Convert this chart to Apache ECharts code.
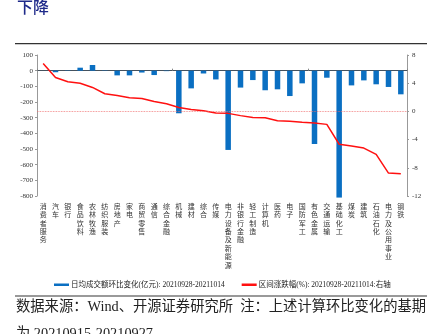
<!DOCTYPE html>
<html><head><meta charset="utf-8">
<script src="https://cdn.jsdelivr.net/npm/echarts@6/dist/echarts.min.js"></script>
<style>html,body{margin:0;padding:0;background:#fff}#c{width:433px;height:334px}</style>
</head><body><div id="c"></div>
<script>
const categories = ['消费者服务','汽车','银行','食品饮料','农林牧渔','纺织服装','房地产','家电','商贸零售','通信','综合金融','机械','建材','综合','传媒','电力设备及新能源','非银行金融','轻工制造','计算机','医药','电子','国防军工','有色金属','交通运输','基础化工','煤炭','建筑','石油石化','电力及公用事业','钢铁'];
const turnoverChange = [0,-10,-2,19,36,-2,-30,-30,-12,-28,-3,-272,-113,-18,-56,-506,-108,-60,-125,-119,-162,-81,-468,-45,-810,-94,-62,-87,-104,-151];
const priceChange = [6.8,4.8,4.2,4.0,3.4,2.5,2.26,1.93,1.84,1.4,1.08,0.56,0.28,0.1,-0.24,-0.28,-0.6,-0.85,-0.9,-1.32,-1.41,-1.55,-1.65,-1.84,-4.66,-4.9,-5.2,-6.1,-8.75,-8.85];
const barName = '日均成交额环比变化(亿元): 20210928-20211014';
const lineName = '区间涨跌幅(%): 20210928-20211014:右轴';
const titleText = '下降';
const footLine1 = '数据来源：Wind、开源证券研究所  注：上述计算环比变化的基期';
const footLine2 = '为 20210915-20210927';

const serif = '"Liberation Serif","Noto Sans CJK SC"';
const chart = echarts.init(document.getElementById('c'), null, {renderer:'canvas'});
const numLabel = {fontSize:7, fontFamily:serif, color:'#333'};
chart.setOption({
  animation:false,
  backgroundColor:'#fff',
  grid:{left:37, right:26, top:55, bottom:138},
  legend:{
    left:49, top:276, itemWidth:15, itemHeight:2.5, itemGap:17,
    textStyle:{fontSize:7.5, fontFamily:serif, color:'#222', padding:[0,0,0,-3]},
    data:[{name:barName, icon:'rect'},{name:lineName, icon:'rect'}]
  },
  xAxis:[
    {type:'category', data:categories, position:'bottom',
     axisLine:{show:false}, axisTick:{show:false},
     axisLabel:{interval:0, formatter:v=>v.split('').join('\n'), fontSize:7, lineHeight:8.4, color:'#333', margin:6, fontFamily:'"Noto Sans CJK SC"'}},
    {type:'category', data:categories, position:'bottom',
     axisLine:{show:true, onZero:true, onZeroAxisIndex:0, lineStyle:{color:'#45525e', width:1}},
     axisTick:{show:true, inside:true, length:2, lineStyle:{color:'#888'}},
     axisLabel:{show:false}}
  ],
  yAxis:[
    {type:'value', min:-800, max:100, interval:100, position:'left',
     axisLine:{show:true, onZero:false, lineStyle:{color:'#999'}},
     axisTick:{show:true, length:2, lineStyle:{color:'#999'}},
     axisLabel:Object.assign({margin:4}, numLabel), splitLine:{show:false}},
    {type:'value', min:-12, max:8, interval:4, position:'right',
     axisLine:{show:true, onZero:false, lineStyle:{color:'#999'}},
     axisTick:{show:true, length:2, lineStyle:{color:'#999'}},
     axisLabel:Object.assign({margin:5}, numLabel), splitLine:{show:false}}
  ],
  series:[
    {name:barName, type:'bar', xAxisIndex:0, yAxisIndex:0, data:turnoverChange, barWidth:5.5, clip:false,
     itemStyle:{color:'#0a6fc2'}, z:2},
    {name:lineName, type:'line', xAxisIndex:0, yAxisIndex:1, data:priceChange, symbol:'none',
     lineStyle:{color:'#ff1010', width:1.5}, itemStyle:{color:'#ff1010'}, z:3,
     markLine:{silent:true, symbol:'none', label:{show:false},
       lineStyle:{type:'dotted', color:'#f07070', width:0.8}, data:[{yAxis:0}]}}
  ],
  graphic:[
    {type:'text', left:17, top:-1, style:{text:titleText, fontSize:16, fontWeight:500, fill:'#1f2a8a', fontFamily:'"Noto Sans CJK SC"'}},
    {type:'line', shape:{x1:15, y1:43.7, x2:427, y2:43.7}, style:{stroke:'#333', lineWidth:1.3}},
    {type:'line', shape:{x1:15, y1:296, x2:427, y2:296}, style:{stroke:'#777', lineWidth:1.3}},
    {type:'text', left:16, top:300, style:{text:footLine1, fontSize:14.3, fill:'#222', fontFamily:serif}},
    {type:'text', left:16, top:327, style:{text:footLine2, fontSize:14.3, fill:'#222', fontFamily:serif}}
  ]
});
</script></body></html>
